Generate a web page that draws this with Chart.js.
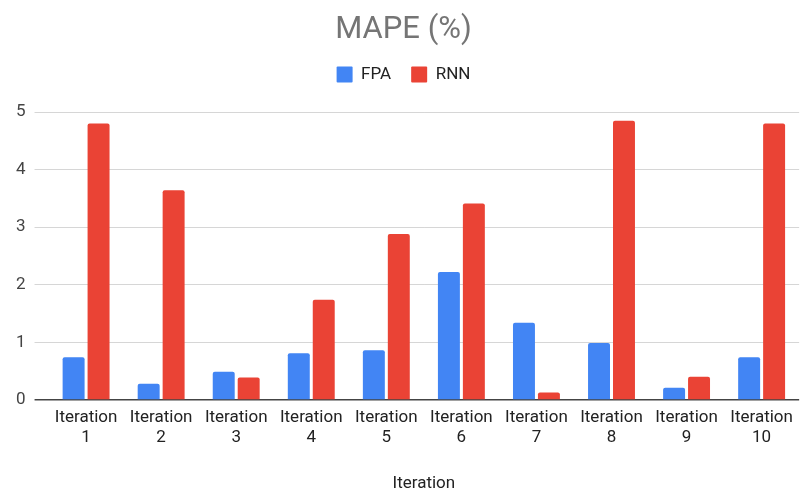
<!DOCTYPE html>
<html><head><meta charset="utf-8">
<script src="https://cdn.jsdelivr.net/npm/chart.js@4/dist/chart.umd.min.js"></script>
<style>html,body{margin:0;padding:0;background:#fff}#wrap{width:801px;height:492px}</style>
</head><body><div id="wrap"><canvas id="c"></canvas></div>
<script>
const categories = ["1","2","3","4","5","6","7","8","9","10"];
const fpa = [0.74,0.28,0.49,0.81,0.86,2.22,1.34,0.99,0.21,0.74];
const rnn = [4.80,3.64,0.39,1.74,2.88,3.41,0.13,4.85,0.40,4.80];
const yTicks = [0,1,2,3,4,5];

Chart.defaults.font.family = "Roboto, Arial, sans-serif";
const legendGap = {
  id:'legendGap',
  beforeInit(chart){
    const fit = chart.legend.fit;
    chart.legend.fit = function(){ fit.call(this); this.height += 19; };
  }
};
new Chart(document.getElementById('c'), {
  type: 'bar',
  plugins:[legendGap],
  data: {
    labels: categories.map(c => ["Iteration", c]),
    datasets: [
      {label:'FPA', data:fpa, backgroundColor:'#4285F4', borderRadius:2, categoryPercentage:0.665, barPercentage:0.88},
      {label:'RNN', data:rnn, backgroundColor:'#EA4335', borderRadius:2, categoryPercentage:0.665, barPercentage:0.88}
    ]
  },
  options: {
    responsive:true, maintainAspectRatio:false, animation:false,
    layout:{padding:{left:7,right:1,top:15,bottom:0}},
    plugins:{
      title:{display:true,text:'MAPE (%)',color:'#757575',font:{size:31,weight:'normal',lineHeight:1.0},padding:{top:0,bottom:0}},
      legend:{labels:{boxWidth:16,boxHeight:16,color:'#222',font:{size:17},padding:20,useBorderRadius:true,borderRadius:1}},
      tooltip:{enabled:false}
    },
    scales:{
      x:{
        grid:{display:false,drawTicks:false},
        border:{display:false},
        ticks:{color:'#222',font:{size:17,lineHeight:1.18},maxRotation:0,autoSkip:false,padding:8},
        title:{display:true,text:'Iteration',color:'#222',font:{size:17,lineHeight:1.0},padding:{top:19,bottom:0}}
      },
      y:{
        min:0,max:5,
        afterBuildTicks: s => { s.ticks = yTicks.map(v => ({value:v})); },
        border:{display:false},
        grid:{
          color: ctx => ctx.tick && ctx.tick.value === 0 ? '#444' : '#d6d6d6',
          lineWidth: ctx => ctx.tick && ctx.tick.value === 0 ? 1.5 : 1,
          tickLength:14, drawTicks:true
        },
        ticks:{color:'#444',font:{size:17},padding:9}
      }
    }
  }
});
</script></body></html>
